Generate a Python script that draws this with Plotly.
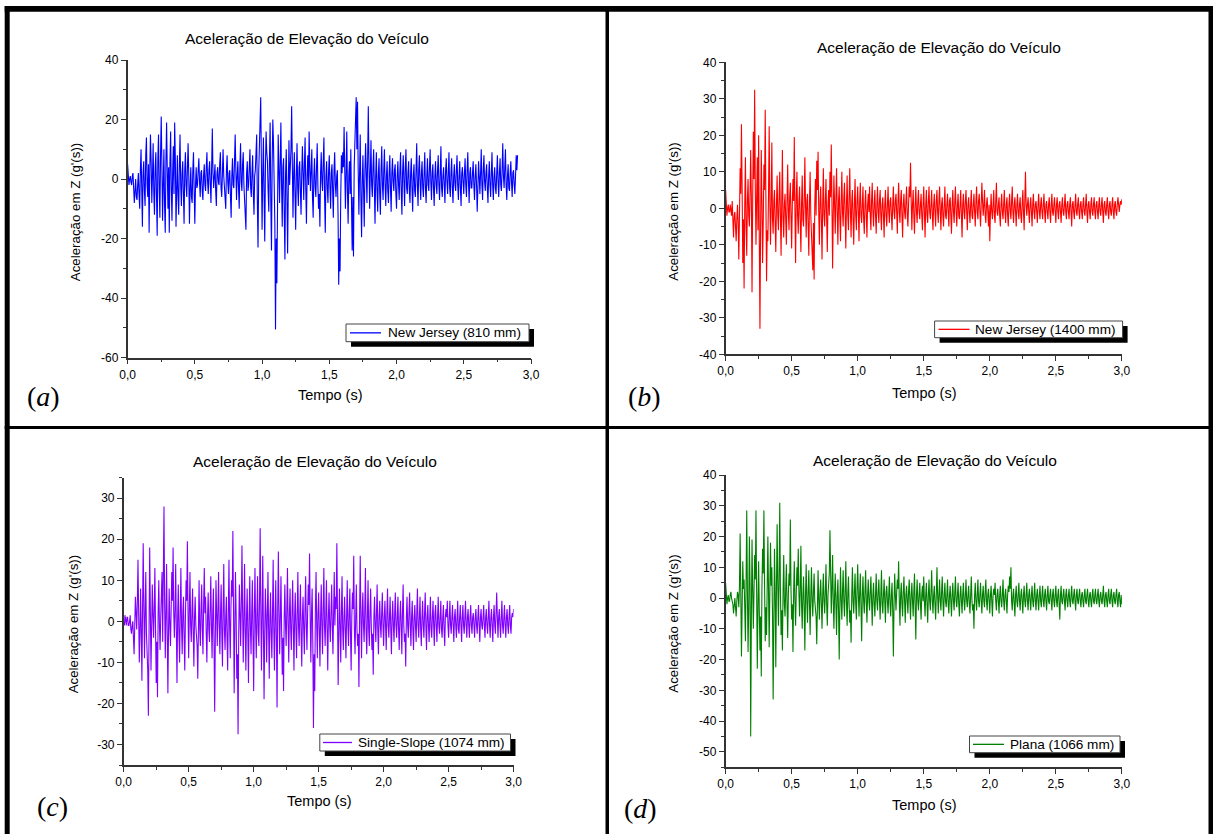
import plotly.graph_objects as go

# ---------------- data ----------------
DT = 0.005  # sampling step of the signals (s)

acc_nj810 = [
    5, 1, -2, 0, 1, -1, -2, 1, 2, -3,
    -8, -4, 0, -6, -7, -2, 2, -5, -10, 3,
    10, -3, -16, 2, 6, -4, -9, 8, 14, -2,
    -6, 5, -18, 3, 15, 6, -8, 1, 12, -5,
    -12, 4, 9, -6, -19, 7, 15, -3, -13, 8,
    21, 5, -14, -2, 10, -9, -18, 6, 19, 3,
    -10, 4, -18, 6, 16, -3, -14, 2, 11, -5,
    19, 7, -16, -4, 8, -6, -12, 5, 15, -2,
    -9, 2, 6, -5, -15, 3, 9, -2, -6, 4,
    12, 1, -15, -3, 4, -6, -8, 3, 9, -4,
    -15, -2, 4, -3, -2, 3, 7, -1, -6, 2,
    3, -4, -7, 1, 5, -2, -4, 4, 9, -1,
    -5, 3, 6, -2, -8, 4, 17, 2, -3, 1,
    5, -4, -9, 2, 4, -1, -2, 5, 9, -3,
    -6, 2, 10, 1, -4, -7, -10, 3, 8, -1,
    -5, 2, 3, -6, -13, 1, 7, -2, -3, 6,
    15, 3, -7, 1, 6, -3, -10, 4, 12, -1,
    -4, 5, 9, -2, -6, -9, -17, 2, 6, -4,
    -2, 4, 10, -3, -6, 2, 8, -5, -12, 1,
    3, 9, 15, -8, -23, 2, 10, 16, 27.5, 5,
    -17, 2, 14, -6, -21, 4, 16, 9, 6, -4,
    -11, 7, 19, -8, -24, 5, 20, 12, 3, -15,
    -50.5, -20, -35, -5, 15, 3, -8, 6, 19, -2,
    -16, 4, 7, -12, -27, 2, 10, -6, -25, -3,
    13, -2, 4, 10, 24.5, 3, -13, 2, 9, -5,
    -17, 1, 12, -3, -9, 4, 6, -4, -12, 2,
    11, 2, -7, 5, 14, -3, -15, 1, 8, -2,
    16, 4, -4, 3, 10, -6, -13, 1, 7, -3,
    -6, 4, 12, -2, -10, -5, -16, 2, 9, -1,
    -4, 6, 14, -6, -18, 1, 6, -3, -8, 3,
    8, -3, -10, 2, 5, -4, -13, 3, 9, -2,
    -6, 1, 3, -12, -35.5, -20, -31, -6, 8, 2,
    9, 4, 17.5, 3, -10, 2, 16, -4, -15, 1,
    6, -5, 10, -8, -24, -6, -26, 4, 12, 18,
    27.5, 10, 26, 3, -12, 2, 15, -6, -19.5, -2,
    8, -4, -16, 3, 12, 2, -8, 6, 24.5, 5,
    -10, 2, 13, -2, -6, 4, 10, -3, -15, 1,
    9, -4, -11, 2, 7, -5, -12, 3, 11, -2,
    -7, 3, 10, -2, -9, 1, 6, -4, -8, 2,
    8, -3, -11, 2, 7, -1, -4, 3, 5, -5,
    -10, 1, 6, -2, -7, 3, 9, -4, -12, 2,
    8, -1, -9, 4, 10, -3, -5, 2, 6, -4,
    -8, 2, 7, -3, -11, 1, 5, -4, -6, 3,
    12, -2, -9, 3, 8, -1, -7, 2, 6, -3,
    -6, 2, 9, -3, -8, 1, 7, -2, -4, 4,
    10, -1, -7, 2, 5, -3, -9, 1, 6, -2,
    -5, 3, 8, -2, -7, 2, 11, -3, -6, 1,
    4, -2, -8, 3, 7, -1, -5, 2, 9, -3,
    -6, 2, 7, -3, -8, 1, 5, -2, -4, 3,
    8, -2, -7, 1, 6, -3, -9, 2, 4, -1,
    -5, 2, 7, -2, -6, 3, 9, -1, -8, 2,
    4, -3, -3, 2, 6, -2, -7, 1, 5, -2,
    -11, -3, 6, 1, -5, 2, 10, -2, -7, 3,
    8, -1, -4, 2, 5, -3, -8, 1, 6, -2,
    -6, 2, 9, -2, -7, 1, 4, -3, -5, 2,
    8, -1, -6, 2, 7, -2, -4, 3, 12, 1,
    -3, 4, 10, -2, -7, 1, 5, -3, -4, 2,
    6, -1, -6, 2, 3, -2, -5, 1, 8, 3,
    8,
]

acc_nj1400 = [
    5, 2, -2, 0, 1, -1, -1, 1, 0, -2,
    2, -3, -8, -2, -1, -5, -9, -3, 1, -4,
    -14, -2, 11, 4, 23, 6, -15, -3, -22, 1,
    14, -5, -13, 2, 8, -2, -5, 4, 16, 3,
    -23, 2, 21, 8, 32.5, 5, -10, 3, 14, -6,
    20, -8, -33, -5, 16, 2, -15, -4, 12, 5,
    27, 3, -20, -6, -9, 4, 22.5, 2, -10, 1,
    18, -3, -7, 2, 5, -4, -12, 1, 9, -2,
    -6, 3, 10, -2, -13, 2, 16, -3, -8, 1,
    4, -3, -10, 2, 12, -1, -6, 3, 7, -2,
    -11, 1, 8, 2, 19.5, -1, -15, 3, 10, -2,
    -7, 2, 6, -4, -12, 1, 9, -3, -5, 2,
    14, 1, -8, 2, 4, -5, -13, 2, 10, -2,
    -6, -10, -17, -4, -19.5, 1, 8, -2, 13, 5,
    15.5, -1, -10, 2, 6, -3, -14, 1, 11, -2,
    -5, 2, 8, -3, -12, 1, 5, -2, 10, 3,
    17.5, 2, -16.5, -2, 9, 1, -7, 3, 11, -1,
    -10, 2, 6, -3, -9, 2, 10, -1, -5, 3,
    7, -2, -11, 1, 9, -2, -6, 3, 11, -1,
    -8, 2, 5, -3, -10, 1, 8, -2, -6, 2,
    6, -1, -9, 2, 7, -2, -4, 1, 6, -3,
    -7, 1, 5, -2, -8, 1, 4, -1, 6, -2,
    -6, 2, 7, -1, -5, 1, 5, -2, -7, 1,
    6, -1, -4, 2, 5, -2, -6, 1, 3, -2,
    -8, 1, 5, -2, -5, 1, 6, -1, -4, 2,
    3, -2, -6, 1, 6, -1, -3, 2, 4, -1,
    -7, 2, 7, -1, -4, 2, 5, -2, -8, 1,
    4, -1, -3, 2, 6, -2, -5, 1, 6, 3,
    12.5, 2, -6, 1, 5, -2, -7, 1, 6, -1,
    -4, 2, 5, -1, -3, 1, 4, -2, -6, 1,
    6, -1, -8, 1, 5, -2, -4, 2, 6, -1,
    -3, 1, 5, -2, -6, 1, 4, -1, -5, 2,
    5, -1, -4, 2, 6, -1, -6, 1, 3, -2,
    -5, 1, 6, -2, -3, 1, 4, -1, -5, 2,
    3, -2, -7, 1, 5, -1, -4, 2, 6, -1,
    -5, 1, 4, -2, -3, 1, 5, -2, -8, 1,
    4, -1, -3, 2, 5, -1, -6, 1, 3, -1,
    -4, 1, 5, -2, -3, 1, 4, -1, -5, 2,
    6, -1, -3, 2, 4, -1, -5, 1, 7, 2,
    -2, 1, 5, -2, -4, 1, 3, -1, -5, 1,
    -9, -1, 4, -1, -3, 1, 5, -2, -4, 2,
    7, -1, -2, 1, 3, -2, -5, 1, 4, -1,
    -3, 1, 5, -1, -4, 1, 3, -2, -5, 1,
    4, -1, -3, 2, 6, -1, -4, 1, 3, -1,
    -5, 1, 4, -1, -3, 1, 3, -2, -4, 1,
    5, -1, -6, 2, 10, 1, -2, 1, 3, -1,
    -4, 1, 3, -1, -5, 1, 4, -1, -3, 1,
    2, -1, -4, 1, 4, -1, -3, 1, 3, -1,
    -3, 1, 4, -1, -4, 1, 2, -1, -3, 1,
    3, -1, -4, 1, 4, -1, -2, 1, 3, -1,
    -4, 1, 3, -1, -3, 1, 2, -1, -4, 1,
    3, -1, -2, 1, 4, -1, -3, 1, 2, -1,
    -3, 1, 3, -1, -5, 1, 2, -1, -3, 1,
    4, -1, -2, 1, 3, -1, -3, 1, 2, -1,
    -3, 1, 3, -1, -2, 1, 4, -1, -4, 1,
    2, -1, -3, 1, 3, -1, -2, 1, 3, -1,
    -3, 1, 2, -1, -3, 1, 3, -1, -2, 1,
    3, -1, -4, 1, 2, -1, -2, 1, 3, -1,
    -3, 1, 2, -1, -2, 1, 3, -1, -3, 1,
    2, -1, -2, 1, 3, 1, -1, 1, 2, 1,
    2.5,
]

acc_ss1074 = [
    0, -1, 1.5, 0, -1, 1, 1, -1, -1, 0,
    1.5, -2, -3, -1, 0, -4, -8, -1, 6, 2,
    -2, 5, 15, 2, -10, -3, 8, -2, -14.5, 3,
    19, 4, -9, 2, 12, -3, -6, -12, -23, 1,
    18, 3, -12, -2, 9, 2, -4, 3, 13, -2,
    -15, -5, -18.5, 2, 10, -1, -7, 1, 6, 12,
    -5, 6, 28, 4, -9, 2, 14, -3, -17.5, -2,
    8, -1, -6, 3, 12, 5, 18, 2, -4, 3,
    14, -2, -15, 1, 9, -3, -10, 2, 13, -1,
    -8, 2, 6, -4, -12, 1, 10, 5, 19.5, 2,
    -9, 3, 12, -1, -5, 2, 8, -3, -11, 1,
    6, -1, -4, -6, -14, 2, 10, -2, -6, 3,
    9, -2, -8, 4, 13, 2, 6, -3, -10, 1,
    7, -2, -5, 3, 11, -1, -9, 2, 8, -5,
    -22, -4, 10, 2, -6, 3, 12, -1, -8, 2,
    9, -3, -11, 3, 14, -2, -7, 1, 6, -4,
    -12, 2, 15, -1, -9, 3, 10, 6, 22, 3,
    -17.5, -2, 12, 2, -14, -8, -27.5, -3, 9, 2,
    -6, 4, 18.5, 2, -10, 1, 14, -2, -12, 1,
    8, -3, -15, 1, 11, -2, -8, 2, 10, -4,
    -17, 2, 13, -1, -9, 2, 11, -3, -6, 5,
    22.7, 3, -12, 1, 16, -2, -19, -3, 8, 2,
    -10, 1, 12, -2, -14, 1, 7, -3, -9, 2,
    15, -2, -12, 1, 10, -4, -21, 3, 17, 2,
    -8, 1, 11, -2, -13, -4, -17, 1, 9, -1,
    -6, 3, 13, -1, -10, 2, 8, -2, -7, 2,
    10, -1, -12, 1, 7, -2, -9, 2, 12, -1,
    -6, 2, 9, -3, -11, 1, 6, -2, -8, 3,
    11, -1, -7, 2, 9, 4, 16.5, 1, -10, 2,
    8, -5, -26, -8, -17, 3, 12, -1, -9, 2,
    7, -2, -11, 1, 9, -1, -8, 3, 13, -1,
    -6, 2, 10, -2, -12, 1, 7, -1, -5, 2,
    9, -1, -8, 2, 12, -1, 6, 3, 19, 2,
    -15.5, -3, 8, -1, -10, 2, 11, -2, -7, 1,
    6, -2, -9, 1, 10, -1, -6, 2, 8, -3,
    -12, 1, 7, 3, 16, -2, -8, 1, 9, -2,
    -6, -3, -16, 2, 16, 1, -9, 2, 7, -1,
    -5, 3, 13, -2, -8, 1, 10, -2, -6, 2,
    8, -1, -7, -3, -13, 1, 6, -1, -5, 2,
    9, -2, -8, 1, 5, -1, -4, 2, 7, -1,
    -6, 1, 5, -1, -7, 2, 8, -1, -4, 1,
    6, -2, -8, 1, 5, -1, -5, 2, 7, -1,
    -4, 1, 6, -2, -7, 1, 5, -1, -8, 2,
    9, -1, -5, -3, -11, 1, 6, -1, -4, 2,
    7, -1, -6, 1, 5, -2, -7, 1, 4, -1,
    -5, 2, 8, -1, -4, 1, 6, -2, -6, 1,
    5, -1, -4, 2, 7, -1, -7, 1, 4, -1,
    -5, 1, 6, -2, -4, 1, 5, -1, -6, 2,
    4, -1, -5, 1, 6, -1, -3, 1, 5, -2,
    -4, 1, 4, -2, -6, 1, 3, 1, 5, -1,
    -4, 1, 5, -1, -3, 1, 4, -1, -5, 1,
    3, -1, -4, 1, 5, -2, -3, 1, 4, -1,
    -5, 1, 4, -1, -3, 1, 5, -1, -4, 1,
    3, -1, -4, 1, 4, -1, -3, 1, 2, -1,
    -4, 1, 3, -1, -3, 1, 4, -1, -5, 1,
    3, -1, -2, 1, 4, -1, -4, 1, 3, -1,
    -3, 1, 5, -1, -4, 1, 3, -1, -5, 1,
    4, -1, -3, 2, 7, 1, -4, 1, 3, -1,
    -4, 1, 5, -1, -3, 1, 4, -1, -4, 1,
    3, -1, -3, 1, 4, -1, -3, 1, 2, 1,
    3,
]

acc_plana1066 = [
    5, 1, -2, 0, 1, -1, -1, 1, 2, 0,
    -1, -2, -5, -1, 0, -3, -6, -1, 2, 1,
    -3, 4, 21, 2, -19, -4, 12, 3, 6, -3,
    -14, 5, 28.5, 2, -17.5, -3, 20, 4, -45, -6,
    19, 3, -10, 2, 14, 6, 28.5, 2, -23, -3,
    12, -4, -17, -6, -25.5, 3, 16, 8, 28.5, 4,
    -14, -3, -12, 4, 20, 2, -16, 3, 18, 4,
    10, -5, -33, -8, 16, 2, -22.5, 3, 24, 5,
    -9, 6, 31, 3, -12, -4, -17, 2, 14, -2,
    -6, 3, 11, -2, -13, 1, 8, 4, 25.5, 3,
    -7, -2, -17.5, 2, 12, -1, -9, 2, 10, 4,
    16, 2, -6, 3, 17, -2, -10, 1, 7, -3,
    -17, 1, 11, -1, -8, 2, 9, -2, -12, 1,
    10, -1, -6, 2, 8, -1, -4, -6, -15, 2,
    9, -1, -7, 2, 6, -2, -10, 1, 8, -1,
    -5, 2, 11, -2, -9, 1, 6, 8, 22, 3,
    -5, 3, 14, -1, -10, 1, 8, -2, -12, 1,
    6, -4, -20, -2, 10, -1, -7, 2, 9, -1,
    -6, 2, 12, -1, -9, 1, 7, -2, -8, -4,
    -14.5, 1, 10, -1, -5, 2, 8, -2, -7, 3,
    11, 1, -6, 2, 8, -3, -14, 1, 7, -1,
    -5, 2, 9, -1, -8, 1, 6, -1, -4, 2,
    7, -1, -9, 1, 5, -2, -6, 1, 8, -1,
    -4, 2, 6, -1, -7, 1, 9, -2, -5, 1,
    6, -1, -8, 2, 4, -1, -5, 1, 7, -2,
    -6, 1, 5, -4, -19, -2, 8, 1, -4, 2,
    6, 3, 12, -1, -9, 1, 5, -2, -6, 2,
    7, -1, -8, 1, 4, -1, -5, 2, 6, -1,
    -7, 1, 5, -1, -6, 2, 8, -3, -13.5, 1,
    6, -1, -4, 1, 5, -2, -7, 1, 4, -1,
    7, -1, -6, 1, 5, -2, -8, 1, 6, -1,
    -4, 2, 9, -1, -5, 1, 4, -2, -7, 1,
    10, 1, -5, 1, 6, -1, -4, 2, 7, -1,
    -6, 1, 5, -1, -3, 1, 6, -2, -5, 1,
    4, -1, -6, 1, 5, -1, -4, 2, 7, -1,
    -3, 1, 5, -2, -6, 1, 4, -1, -5, 1,
    5, -1, -4, 1, 6, -1, -3, 1, 4, -2,
    -5, 1, 7, -1, -4, -2, -10, 1, 5, -1,
    -4, 1, 6, -1, -3, 1, 5, -1, -5, 1,
    4, -1, -3, 2, 6, -1, -4, 1, 3, -1,
    -5, 1, 4, -1, -6, 1, 3, 1, 5, -1,
    -4, 1, 3, -1, -5, 1, 4, -1, -3, 1,
    6, -1, -4, 1, 3, -1, -5, 1, 4, 2,
    7, 3, 10, -1, -4, 1, 3, -2, -6, 1,
    4, -1, -3, 1, 5, -1, -4, 1, 3, -1,
    -5, 1, 4, -1, -3, 1, 5, -1, -4, 1,
    3, -1, -4, 1, 4, -1, -3, 1, 5, -1,
    -4, 1, 3, -1, -4, 1, 4, -1, -3, 1,
    4, -1, -3, 1, 3, -1, -4, 1, 4, -1,
    -2, 1, 3, -1, -4, 1, 3, -1, -3, 1,
    4, -1, -3, 1, 3, -2, -7, 1, 4, -1,
    -2, 1, 3, -1, -4, 1, 3, -1, -3, 1,
    3, -1, -3, 1, 4, -1, -2, 1, 3, -1,
    -4, 1, 3, -1, -2, 1, 3, -1, -3, 1,
    2, -1, -3, 1, 3, -1, -2, 1, 3, -1,
    -3, 1, 2, -1, -3, 1, 3, -1, -2, 1,
    3, -1, -2, 1, 3, -1, -3, 1, 2, -1,
    -2, 1, 4, -1, -3, 1, 2, -1, -3, 1,
    3, -1, -2, 1, 3, -1, -3, 1, 2, -1,
    -2, 1, 3, -1, -3, 1, 2, -1, -3, 1,
    -2,
]

series_names = ["New Jersey (810 mm)", "New Jersey (1400 mm)",
                "Single-Slope (1074 mm)", "Plana (1066 mm)"]
panel_letters = ["a", "b", "c", "d"]
chart_title = "Aceleração de Elevação do Veículo"
x_title = "Tempo (s)"
y_title = "Aceleração em Z (g'(s))"

x_tick_vals = [0.0, 0.5, 1.0, 1.5, 2.0, 2.5, 3.0]
x_tick_text = ["0,0", "0,5", "1,0", "1,5", "2,0", "2,5", "3,0"]
x_minor_vals = [0.25, 0.75, 1.25, 1.75, 2.25, 2.75]

y_ticks_a = [-60, -40, -20, 0, 20, 40]
y_minor_a = [-50, -30, -10, 10, 30]
y_ticks_b = [-40, -30, -20, -10, 0, 10, 20, 30, 40]
y_minor_b = [-35, -25, -15, -5, 5, 15, 25, 35]
y_ticks_c = [-30, -20, -10, 0, 10, 20, 30]
y_minor_c = [-35, -25, -15, -5, 5, 15, 25, 35]
y_ticks_d = [-50, -40, -30, -20, -10, 0, 10, 20, 30, 40]
y_minor_d = [-55, -45, -35, -25, -15, -5, 5, 15, 25, 35]

# ---------------- layout geometry (pixels) ----------------
W, H = 1213, 834


def fx(x):
    return x / W


def fy(y):
    return 1 - y / H


SANS = "Liberation Sans, Arial, sans-serif"
SERIF = "Liberation Serif, Times New Roman, serif"
AXIS_COLOR = "#333333"

panels = [
    dict(y=acc_nj810, color="#0000FF", yr=[-60, 40], yt=y_ticks_a, ym=y_minor_a,
         dom_x=(127.6, 531.0), dom_y=(60.0, 357.7),
         title=(307, 38), ytl=(75.5, 211.7), xtl=(330, 395.5), lab=(43, 397),
         leg=(346, 324, 529, 341.7), samp=(350, 381), txt=386),
    dict(y=acc_nj1400, color="#FF0000", yr=[-40, 40], yt=y_ticks_b, ym=y_minor_b,
         dom_x=(725.6, 1121.9), dom_y=(62.3, 354.3),
         title=(939, 47.7), ytl=(674, 211.7), xtl=(924, 393), lab=(644, 397),
         leg=(934.6, 321, 1122.6, 337.7), samp=(938.5, 969.5), txt=973.4),
    dict(y=acc_ss1074, color="#8000FF", yr=[-35, 35], yt=y_ticks_c, ym=y_minor_c,
         dom_x=(123.7, 513.6), dom_y=(477.7, 765.0),
         title=(315, 461), ytl=(73.3, 624), xtl=(319, 801.3), lab=(52, 806),
         leg=(319.8, 734, 510.5, 751), samp=(323, 352), txt=356),
    dict(y=acc_plana1066, color="#008000", yr=[-55, 40], yt=y_ticks_d, ym=y_minor_d,
         dom_x=(725.6, 1121.9), dom_y=(475.0, 767.3),
         title=(935, 460), ytl=(674, 623.7), xtl=(924, 805.3), lab=(640, 808),
         leg=(969.5, 736, 1120, 752.7), samp=(973, 1004), txt=1008),
]

fig = go.Figure()
shapes = []
annotations = []
layout_axes = {}

for i, p in enumerate(panels):
    n = i + 1
    xa = "x" if n == 1 else f"x{n}"
    ya = "y" if n == 1 else f"y{n}"
    t = [round(k * DT, 3) for k in range(len(p["y"]))]
    fig.add_trace(go.Scatter(
        x=t, y=p["y"], mode="lines", name=series_names[i],
        line=dict(color=p["color"], width=1.1), xaxis=xa, yaxis=ya,
        showlegend=False, hoverinfo="skip",
    ))
    common = dict(
        showline=True, linecolor=AXIS_COLOR, linewidth=1.5,
        ticks="outside", ticklen=5, tickwidth=1.2, tickcolor=AXIS_COLOR,
        showgrid=False, zeroline=False, mirror=False, automargin=False,
        tickfont=dict(family=SANS, size=12, color="#000000"),
        tickmode="array", fixedrange=True,
    )
    layout_axes["xaxis" if n == 1 else f"xaxis{n}"] = dict(
        common, domain=[fx(p["dom_x"][0]), fx(p["dom_x"][1])], range=[0, 3.0],
        tickvals=x_tick_vals, ticktext=x_tick_text, anchor=ya,
        minor=dict(tickvals=x_minor_vals, ticks="outside", ticklen=3,
                   tickwidth=1.2, tickcolor=AXIS_COLOR, showgrid=False),
    )
    layout_axes["yaxis" if n == 1 else f"yaxis{n}"] = dict(
        common, domain=[fy(p["dom_y"][1]), fy(p["dom_y"][0])], range=p["yr"],
        tickvals=p["yt"], ticktext=[str(v) for v in p["yt"]], anchor=xa,
        minor=dict(tickvals=p["ym"], ticks="outside", ticklen=3,
                   tickwidth=1.2, tickcolor=AXIS_COLOR, showgrid=False),
    )

    annotations.append(dict(
        text=chart_title, x=fx(p["title"][0]), y=fy(p["title"][1]),
        xref="paper", yref="paper", xanchor="center", yanchor="middle",
        showarrow=False, font=dict(family=SANS, size=15.5, color="#000000")))
    annotations.append(dict(
        text=y_title, x=fx(p["ytl"][0]), y=fy(p["ytl"][1]), textangle=-90,
        xref="paper", yref="paper", xanchor="center", yanchor="middle",
        showarrow=False, font=dict(family=SANS, size=13.3, color="#000000")))
    annotations.append(dict(
        text=x_title, x=fx(p["xtl"][0]), y=fy(p["xtl"][1]),
        xref="paper", yref="paper", xanchor="center", yanchor="middle",
        showarrow=False, font=dict(family=SANS, size=14.5, color="#000000")))
    annotations.append(dict(
        text=f"(<i>{panel_letters[i]}</i>)", x=fx(p["lab"][0]), y=fy(p["lab"][1]),
        xref="paper", yref="paper", xanchor="center", yanchor="middle",
        showarrow=False, font=dict(family=SERIF, size=28, color="#000000")))

    x0, y0, x1, y1 = p["leg"]
    shapes.append(dict(type="rect", xref="paper", yref="paper",
                       x0=fx(x0 + 5), x1=fx(x1 + 5), y0=fy(y1 + 5), y1=fy(y0 + 5),
                       fillcolor="#000000", line=dict(width=0), layer="above"))
    shapes.append(dict(type="rect", xref="paper", yref="paper",
                       x0=fx(x0), x1=fx(x1), y0=fy(y1), y1=fy(y0),
                       fillcolor="#FFFFFF", line=dict(color="#444444", width=1),
                       layer="above"))
    ym_ = (y0 + y1) / 2
    shapes.append(dict(type="line", xref="paper", yref="paper",
                       x0=fx(p["samp"][0]), x1=fx(p["samp"][1]), y0=fy(ym_), y1=fy(ym_),
                       line=dict(color=p["color"], width=1.3), layer="above"))
    annotations.append(dict(
        text=series_names[i], x=fx(p["txt"]), y=fy(ym_),
        xref="paper", yref="paper", xanchor="left", yanchor="middle",
        showarrow=False, font=dict(family=SANS, size=13.6, color="#000000")))

frame = [
    (4.7, 6.0, 1213, 11.7),
    (4.7, 6.0, 9.7, 834),
    (605.5, 6.0, 609, 834),
    (1208.5, 6.0, 1213, 834),
    (4.7, 426.0, 1213, 429.0),
]
for (a, b, c, d) in frame:
    shapes.append(dict(type="rect", xref="paper", yref="paper",
                       x0=fx(a), x1=fx(c), y0=fy(d), y1=fy(b),
                       fillcolor="#000000", line=dict(width=0), layer="above"))

fig.update_layout(
    width=W, height=H, margin=dict(l=0, r=0, t=0, b=0, autoexpand=False),
    paper_bgcolor="#FFFFFF", plot_bgcolor="#FFFFFF",
    showlegend=False, shapes=shapes, annotations=annotations,
    **layout_axes,
)

# the page's default 8px body margin would shift the 1213x834 figure; remove it
fig.write_html("out.html",
               config={"displayModeBar": False},
               post_script="document.body.style.margin='0px';"
                           "document.body.style.overflow='hidden';")
